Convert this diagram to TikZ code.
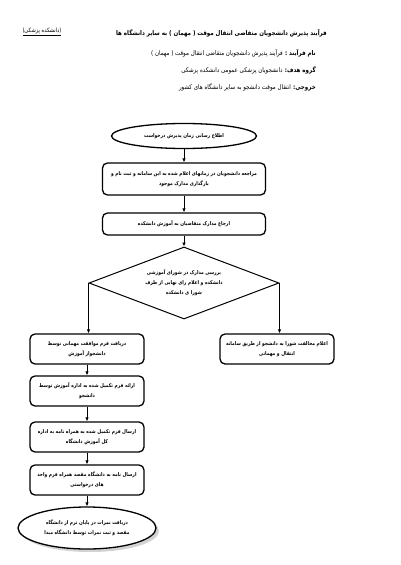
\documentclass[tikz,border=0pt]{standalone}
\usepackage{fontspec}
\newfontfamily\fa[Script=Arabic, FakeStretch=0.85]{DejaVu Sans}
\TeXXeTstate=1
\usetikzlibrary{arrows.meta,positioning,shapes.geometric,shadows}
\newcommand{\rtltext}[1]{\beginR #1\endR}
\newcommand{\guest}{(^^^^00a0مهمان^^^^00a0)}
\tikzset{
  boxfont/.style   = {font=\fa\bfseries\fontsize{5.2}{10}\selectfont},
  stepbox/.style   = {rectangle, rounded corners=5pt, draw, line width=1.3pt, minimum width=163pt, inner sep=1pt, align=center, boxfont},
  sidebox/.style   = {stepbox, minimum width=114pt, minimum height=30pt},
  startstop/.style = {ellipse, draw, line width=1.3pt, inner sep=0pt, align=center, boxfont},
  decision/.style  = {diamond, aspect=2.6, draw, line width=1pt, inner sep=0pt, minimum width=190pt, minimum height=72pt, align=center, boxfont},
  wire/.style      = {line width=0.8pt, -{Latex[length=4pt,width=3.5pt]}},
  headtext/.style  = {anchor=east, inner sep=0pt, font=\fa\fontsize{6.5}{8}\selectfont}
}
\begin{document}
\begin{tikzpicture}[x=1pt, y=-1pt]
  \useasboundingbox (0,0) rectangle (400,565);
  % Header
  \node[headtext, font=\fa\bfseries\fontsize{6.5}{9}\selectfont] (title) at (327,33)
    {\rtltext{فرآیند پذیرش دانشجویان متقاضی انتقال موقت \guest{} به سایر دانشگاه ها}};
  \node[headtext, anchor=center, font=\fa\fontsize{6}{8}\selectfont] (faculty) at (42,32)
    {\underline{\rtltext{(دانشکده پزشکی)}}};
  \node[headtext] (name) at (316,53)
    {\rtltext{{\bfseries نام فرآیند :} فرآیند پذیرش دانشجویان متقاضی انتقال موقت \guest}};
  \node[headtext] (target) at (316,70)
    {\rtltext{{\bfseries گروه هدف:} دانشجویان پزشکی عمومی دانشکده پزشکی}};
  \node[headtext] (output) at (316,87)
    {\rtltext{{\bfseries خروجی:} انتقال موقت دانشجو به سایر دانشگاه های کشور}};
  % Main column
  \node[startstop, minimum width=145pt, minimum height=25pt] (inform) at (184,136)
    {\rtltext{اطلاع رسانی زمان پذیرش درخواست}};
  \node[stepbox, minimum height=32pt] (register) at (184,179)
    {\rtltext{مراجعه دانشجویان در زمانهای اعلام شده به این سامانه و ثبت نام و}\\
     \rtltext{بارگذاری مدارک موجود}};
  \node[stepbox, minimum height=22pt] (refer) at (184,224)
    {\rtltext{ارجاع مدارک متقاضیان به آموزش دانشکده}};
  \node[decision] (council) at (184,283)
    {\rtltext{بررسی مدارک در شورای آموزشی}\\
     \rtltext{دانشکده و اعلام رای نهایی از طرف}\\
     \rtltext{شورا ی دانشکده}};
  % Right branch
  \node[sidebox] (reject) at (277,349)
    {\rtltext{اعلام مخالفت شورا به دانشجو از طریق سامانه}\\
     \rtltext{انتقال و مهمانی}};
  % Left branch
  \node[sidebox] (form) at (87,349)
    {\rtltext{دریافت فرم موافقت مهمانی توسط}\\
     \rtltext{دانشجواز آموزش}};
  \node[sidebox] (submit) at (87,391)
    {\rtltext{ارائه فرم تکمیل شده به اداره آموزش توسط}\\
     \rtltext{دانشجو}};
  \node[sidebox] (send) at (87,437)
    {\rtltext{ارسال فرم تکمیل شده به همراه نامه به اداره}\\
     \rtltext{کل آموزش دانشگاه}};
  \node[sidebox] (letter) at (87,480)
    {\rtltext{ارسال نامه به دانشگاه مقصد همراه فرم واحد}\\
     \rtltext{های درخواستی}};
  \node[startstop, minimum width=138pt, minimum height=42pt,
        drop shadow={shadow xshift=3pt, shadow yshift=-3pt, fill=gray!70}, fill=white] (grades) at (87,528)
    {\rtltext{دریافت نمرات در پایان ترم از دانشگاه}\\
     \rtltext{مقصد و ثبت نمرات توسط دانشگاه مبدا}};
  % Wires
  \draw[wire] (inform) -- (register);
  \draw[wire] (register) -- (refer);
  \draw[wire] (refer) -- (council);
  \draw[wire] (council.west) -- (council.west |- form.north);
  \draw[wire] (council.east) -- (council.east |- reject.north);
  \draw[wire] (form) -- (submit);
  \draw[wire] (submit) -- (send);
  \draw[wire] (send) -- (letter);
  \draw[wire] (letter) -- (grades);
\end{tikzpicture}
\end{document}
